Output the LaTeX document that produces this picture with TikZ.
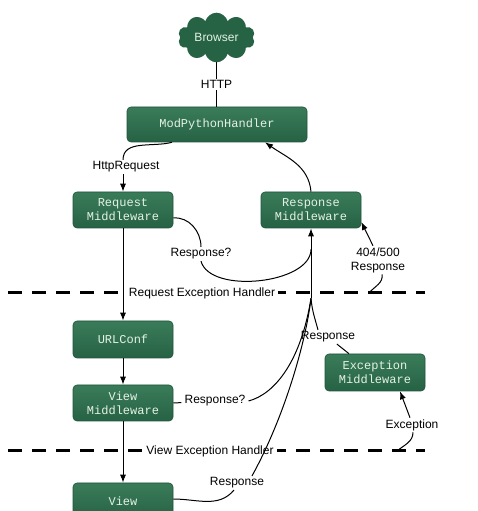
\documentclass[tikz,border=0pt]{standalone}
\usepackage{fontspec}
\setmainfont{Liberation Sans}
\newfontfamily\codefont{Liberation Mono}
\usepackage{tikz}
\usetikzlibrary{calc, positioning, arrows.meta, shapes.symbols}
\definecolor{stageTop}{RGB}{58, 124, 90}
\definecolor{stageBot}{RGB}{38, 98, 68}
\definecolor{stageText}{RGB}{228, 242, 230}

\begin{document}
\begin{tikzpicture}[x=1pt, y=1pt,
  font=\fontsize{12}{14}\selectfont,
  stage/.style={rounded corners=4pt, draw=stageBot!85!black, line width=0.6pt,
    top color=stageTop, bottom color=stageBot, text=stageText,
    font=\codefont\fontsize{12}{14}\selectfont, align=center,
    minimum width=100pt, minimum height=36pt, inner sep=0pt},
  lbl/.style={fill=white, inner xsep=3pt, inner ysep=1.5pt, align=center},
  flow/.style={line width=1pt},
  arr/.style={flow, -{Latex[length=8pt, width=6pt]}},
  divider/.style={line width=3pt, dash pattern=on 14pt off 10pt}]
  \useasboundingbox (0,0) rectangle (478,511);

  % boxes
  \node[cloud, cloud puffs=10, aspect=1.7, minimum width=77pt, minimum height=45pt,
    inner sep=0pt, fill=stageBot, text=stageText] (browser) at (216.5,473.5) {Browser};
  \node[stage, minimum width=180pt, minimum height=35pt] (mph) at (217,386.5) {ModPythonHandler};
  \node[stage] (reqmw) at (123,301) {Request\\Middleware};
  \node[stage] (respmw) at (311,301) {Response\\Middleware};
  \node[stage, minimum height=37pt] (urlconf) at (123,171.5) {URLConf};
  \node[stage] (viewmw) at (123,108) {View\\Middleware};
  \node[stage, minimum height=37pt] (excmw) at (375,138.5) {Exception\\Middleware};
  \node[stage] (view) at (123,10) {View};

  % exception handler lines
  \coordinate (reqL) at (8,218);
  \coordinate (reqR) at (425,218);
  \coordinate (viewL) at (8,60);
  \coordinate (viewR) at (425,60);
  \draw[divider] (reqL) -- (reqR);
  \draw[divider] (viewL) -- (viewR);
  \node[lbl] (reqexc) at (202,218) {Request Exception Handler};
  \node[lbl] (viewexc) at (210,60) {View Exception Handler};

  % labels
  \node[lbl] (httpreq) at (126,344) {HttpRequest};
  \node[lbl] (respq1) at (201,257) {Response?};
  \node[lbl] (err) at (378,251) {404/500\\Response};
  \node[lbl] (resp2) at (328,174) {Response};
  \node[lbl] (respq2) at (215,110) {Response?};
  \node[lbl] (resp3) at (237,28) {Response};
  \node[lbl] (exc) at (412,86) {Exception};

  \coordinate (split) at ($(respmw.south)+(0,-70)$);
  \coordinate (errStart) at (369,218);
  \coordinate (excStart) at (397,60);

  % connectors
  \draw[flow] (browser.south) -- node[lbl] (http) {HTTP} (browser.south |- mph.north);
  \draw[flow] ([xshift=-45pt]mph.south) to[out=195, in=90] (reqmw.north |- httpreq.north);
  \draw[arr] (reqmw.north |- httpreq.south) -- (reqmw.north);
  \draw[arr] (respmw.north) to[out=95, in=-35] ([xshift=48pt]mph.south);
  \draw[arr] (reqmw) -- (urlconf);
  \draw[arr] (urlconf) -- (viewmw);
  \draw[arr] (viewmw) -- (view);

  \draw[arr] (split) -- (respmw.south);
  \draw[flow] ([yshift=-8pt]reqmw.east) to[out=5, in=90] (respq1.north);
  \draw[flow] (respq1.south) to[out=-75, in=-90, looseness=0.8] ($(split)!0.7!(respmw.south)$);
  \draw[flow] (errStart) to[out=50, in=-80] ([xshift=4pt]err.south);
  \draw[arr] ([xshift=-5pt]err.north) -- ([yshift=-12pt]respmw.east);
  \draw[flow] ([xshift=-26pt]excmw.north) -- (resp2);
  \draw[flow] ([xshift=-10pt]resp2.north) to[out=105, in=-85] (split);
  \draw[flow] (viewmw.east) -- (respq2);
  \draw[flow] (respq2.east) .. controls (275,117) and (301,150) .. (split);
  \draw[flow] ([yshift=2pt]view.east) to[out=0, in=-130] ([xshift=-3pt]resp3.south);
  \draw[flow] ([xshift=15pt]resp3.north) .. controls (285,95) and (306,170) .. (split);
  \draw[flow] (excStart) to[out=40, in=-90] ([xshift=1pt]exc.south);
  \draw[arr] ([xshift=-2pt]exc.north) -- ([xshift=25pt]excmw.south);
\end{tikzpicture}
\end{document}
